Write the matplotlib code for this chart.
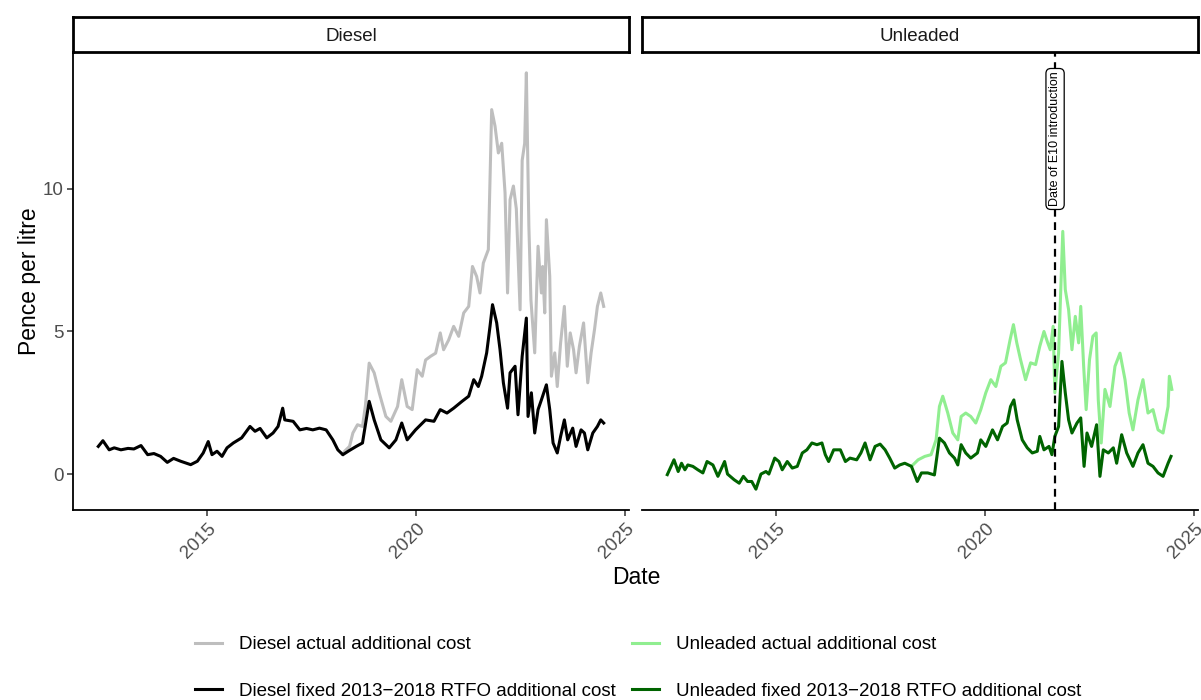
import numpy as np
import pandas as pd
import matplotlib
matplotlib.use("Agg")
import matplotlib.pyplot as plt
import matplotlib.dates as mdates
from matplotlib.lines import Line2D

plt.rcParams['font.family'] = ['Liberation Sans', 'DejaVu Sans']

# (decimal year, pence per litre)
diesel_fixed = [
    (2012.39, 0.97), (2012.50, 1.17), (2012.65, 0.85), (2012.77, 0.92), (2012.93, 0.85),
    (2013.10, 0.90), (2013.24, 0.88), (2013.41, 1.00), (2013.57, 0.68), (2013.72, 0.72),
    (2013.88, 0.62), (2014.04, 0.41), (2014.19, 0.55), (2014.36, 0.45), (2014.60, 0.33),
    (2014.76, 0.45), (2014.90, 0.74), (2015.02, 1.14), (2015.11, 0.68), (2015.23, 0.80),
    (2015.35, 0.62), (2015.47, 0.92), (2015.62, 1.09), (2015.82, 1.27), (2016.02, 1.67),
    (2016.14, 1.50), (2016.26, 1.60), (2016.42, 1.27), (2016.57, 1.44), (2016.69, 1.67),
    (2016.80, 2.31), (2016.85, 1.90), (2017.05, 1.85), (2017.21, 1.55), (2017.37, 1.60),
    (2017.52, 1.55), (2017.68, 1.61), (2017.84, 1.55), (2018.00, 1.20), (2018.12, 0.85),
    (2018.24, 0.68), (2018.40, 0.83), (2018.56, 0.97), (2018.71, 1.09), (2018.87, 2.55),
    (2018.99, 1.90), (2019.15, 1.20), (2019.35, 0.92), (2019.51, 1.20), (2019.65, 1.79),
    (2019.78, 1.20), (2019.98, 1.55), (2020.22, 1.90), (2020.42, 1.85), (2020.57, 2.26),
    (2020.73, 2.14), (2020.89, 2.31), (2021.09, 2.55), (2021.25, 2.73), (2021.37, 3.31),
    (2021.48, 3.07), (2021.56, 3.43), (2021.68, 4.25), (2021.76, 5.18), (2021.82, 5.94),
    (2021.92, 5.30), (2022.00, 4.36), (2022.08, 3.20), (2022.18, 2.31), (2022.24, 3.55),
    (2022.36, 3.78), (2022.43, 2.08), (2022.53, 4.13), (2022.63, 5.47), (2022.67, 2.02),
    (2022.75, 2.85), (2022.83, 1.44), (2022.91, 2.26), (2022.99, 2.60), (2023.11, 3.13),
    (2023.19, 2.26), (2023.27, 1.09), (2023.37, 0.74), (2023.45, 1.32), (2023.54, 1.90),
    (2023.62, 1.20), (2023.74, 1.61), (2023.82, 0.97), (2023.94, 1.55), (2024.02, 1.44),
    (2024.10, 0.85), (2024.22, 1.44), (2024.33, 1.67), (2024.41, 1.90), (2024.48, 1.79),
]

diesel_actual = [
    (2018.24, 0.68), (2018.28, 0.80), (2018.40, 0.97), (2018.48, 1.44), (2018.59, 1.73),
    (2018.71, 1.67), (2018.78, 2.40), (2018.87, 3.89), (2018.99, 3.55), (2019.11, 2.85),
    (2019.27, 2.02), (2019.39, 1.85), (2019.55, 2.37), (2019.65, 3.31), (2019.78, 2.37),
    (2019.90, 2.26), (2020.02, 3.66), (2020.14, 3.43), (2020.22, 4.00), (2020.34, 4.13),
    (2020.46, 4.24), (2020.57, 4.95), (2020.65, 4.36), (2020.77, 4.70), (2020.89, 5.18),
    (2021.01, 4.83), (2021.13, 5.65), (2021.25, 5.88), (2021.34, 7.28), (2021.44, 6.93),
    (2021.52, 6.35), (2021.60, 7.40), (2021.72, 7.87), (2021.80, 12.78), (2021.88, 12.20),
    (2021.96, 11.26), (2022.04, 11.60), (2022.12, 9.86), (2022.18, 6.35), (2022.24, 9.62),
    (2022.32, 10.10), (2022.39, 9.30), (2022.48, 5.76), (2022.53, 11.00), (2022.59, 11.60),
    (2022.63, 14.07), (2022.69, 8.70), (2022.74, 6.10), (2022.83, 4.25), (2022.91, 7.99),
    (2022.99, 6.35), (2023.02, 7.28), (2023.07, 5.65), (2023.11, 8.92), (2023.19, 6.93),
    (2023.23, 3.43), (2023.31, 4.25), (2023.37, 3.07), (2023.45, 4.60), (2023.54, 5.88),
    (2023.61, 3.78), (2023.68, 4.95), (2023.76, 4.36), (2023.82, 3.55), (2023.90, 4.48),
    (2024.00, 5.30), (2024.10, 3.20), (2024.18, 4.25), (2024.26, 5.06), (2024.33, 5.88),
    (2024.41, 6.35), (2024.48, 5.88),
]

unleaded_fixed = [
    (2012.39, -0.02), (2012.55, 0.50), (2012.65, 0.09), (2012.73, 0.38), (2012.81, 0.15),
    (2012.88, 0.32), (2013.00, 0.27), (2013.12, 0.15), (2013.24, 0.04), (2013.34, 0.44),
    (2013.48, 0.32), (2013.60, -0.08), (2013.76, 0.44), (2013.83, 0.00), (2013.99, -0.20),
    (2014.11, -0.32), (2014.21, -0.08), (2014.31, -0.26), (2014.41, -0.26), (2014.51, -0.53),
    (2014.63, 0.00), (2014.75, 0.09), (2014.82, 0.00), (2014.96, 0.56), (2015.06, 0.44),
    (2015.14, 0.15), (2015.26, 0.44), (2015.38, 0.21), (2015.50, 0.27), (2015.62, 0.74),
    (2015.73, 0.85), (2015.85, 1.09), (2015.97, 1.03), (2016.09, 1.09), (2016.17, 0.68),
    (2016.25, 0.44), (2016.37, 0.85), (2016.53, 0.85), (2016.65, 0.44), (2016.76, 0.56),
    (2016.92, 0.50), (2017.02, 0.74), (2017.12, 1.09), (2017.24, 0.50), (2017.36, 0.97),
    (2017.48, 1.05), (2017.60, 0.85), (2017.71, 0.56), (2017.83, 0.21), (2017.95, 0.32),
    (2018.07, 0.38), (2018.23, 0.27), (2018.37, -0.26), (2018.47, 0.04), (2018.62, 0.04),
    (2018.78, -0.03), (2018.90, 1.26), (2019.02, 1.09), (2019.14, 0.74), (2019.26, 0.56),
    (2019.34, 0.32), (2019.42, 1.03), (2019.53, 0.74), (2019.65, 0.56), (2019.81, 0.74),
    (2019.89, 1.20), (2020.01, 0.97), (2020.17, 1.55), (2020.29, 1.20), (2020.41, 1.67),
    (2020.52, 1.79), (2020.60, 2.37), (2020.68, 2.60), (2020.76, 1.90), (2020.88, 1.20),
    (2021.00, 0.92), (2021.12, 0.74), (2021.24, 0.80), (2021.30, 1.32), (2021.40, 0.85),
    (2021.52, 0.97), (2021.59, 0.68), (2021.66, 1.32), (2021.75, 1.67), (2021.83, 3.95),
    (2021.91, 2.85), (2021.99, 1.90), (2022.07, 1.44), (2022.19, 1.79), (2022.28, 1.97),
    (2022.36, 0.27), (2022.43, 1.44), (2022.54, 0.97), (2022.66, 1.73), (2022.74, -0.08),
    (2022.82, 0.85), (2022.94, 0.74), (2023.06, 0.92), (2023.14, 0.38), (2023.26, 1.38),
    (2023.38, 0.74), (2023.53, 0.27), (2023.65, 0.74), (2023.77, 1.03), (2023.89, 0.38),
    (2024.01, 0.27), (2024.13, 0.04), (2024.25, -0.08), (2024.37, 0.38), (2024.44, 0.62),
]

unleaded_actual = [
    (2018.23, 0.27), (2018.39, 0.50), (2018.55, 0.62), (2018.70, 0.68), (2018.82, 1.20),
    (2018.90, 2.37), (2018.98, 2.73), (2019.10, 2.14), (2019.22, 1.44), (2019.34, 1.20),
    (2019.42, 2.02), (2019.53, 2.14), (2019.65, 2.02), (2019.77, 1.79), (2019.89, 2.26),
    (2020.01, 2.85), (2020.13, 3.31), (2020.25, 3.07), (2020.37, 3.78), (2020.48, 3.90),
    (2020.59, 4.71), (2020.67, 5.24), (2020.75, 4.60), (2020.84, 4.01), (2020.96, 3.31),
    (2021.08, 3.90), (2021.20, 3.84), (2021.30, 4.48), (2021.40, 5.00), (2021.49, 4.60),
    (2021.55, 4.36), (2021.62, 5.18), (2021.66, 2.85), (2021.75, 4.24), (2021.85, 8.51),
    (2021.91, 6.47), (2021.99, 5.76), (2022.07, 4.36), (2022.15, 5.53), (2022.23, 4.60),
    (2022.28, 5.88), (2022.35, 3.78), (2022.41, 2.26), (2022.49, 4.01), (2022.57, 4.83),
    (2022.65, 4.95), (2022.70, 2.60), (2022.77, 1.09), (2022.86, 2.97), (2022.98, 2.37),
    (2023.10, 3.78), (2023.22, 4.24), (2023.34, 3.31), (2023.44, 2.14), (2023.53, 1.55),
    (2023.65, 2.60), (2023.77, 3.31), (2023.89, 2.14), (2024.01, 2.26), (2024.13, 1.55),
    (2024.25, 1.44), (2024.37, 2.37), (2024.40, 3.43), (2024.46, 2.97),
]

panels = ["Diesel", "Unleaded"]
series_labels = {
    "diesel_actual": "Diesel actual additional cost",
    "diesel_fixed": "Diesel fixed 2013\u22122018 RTFO additional cost",
    "unleaded_actual": "Unleaded actual additional cost",
    "unleaded_fixed": "Unleaded fixed 2013\u22122018 RTFO additional cost",
}
series_colors = {
    "diesel_actual": "#BEBEBE",
    "diesel_fixed": "#000000",
    "unleaded_actual": "#90EE90",
    "unleaded_fixed": "#006400",
}
e10_date = "2021-09-01"
e10_label = "Date of E10 introduction"


def to_dates(years):
    out = []
    for y in years:
        yr = int(np.floor(y))
        start = pd.Timestamp(year=yr, month=1, day=1)
        end = pd.Timestamp(year=yr + 1, month=1, day=1)
        out.append((start + (end - start) * (y - yr)).to_pydatetime())
    return out


def split(pairs):
    t, v = zip(*pairs)
    return to_dates(t), np.array(v)


data = {
    "diesel_actual": split(diesel_actual),
    "diesel_fixed": split(diesel_fixed),
    "unleaded_actual": split(unleaded_actual),
    "unleaded_fixed": split(unleaded_fixed),
}

# shared scales with 5% padding on each side
all_series = (diesel_fixed, diesel_actual, unleaded_fixed, unleaded_actual)
all_t = [p[0] for s in all_series for p in s]
all_v = [p[1] for s in all_series for p in s]
t_lo, t_hi = min(all_t), max(all_t)
v_lo, v_hi = min(all_v), max(all_v)
xlim = to_dates([t_lo - 0.05 * (t_hi - t_lo), t_hi + 0.05 * (t_hi - t_lo)])
ylim = (v_lo - 0.05 * (v_hi - v_lo), v_hi + 0.05 * (v_hi - v_lo))

W, H = 1201, 700
fig = plt.figure(figsize=(W / 100, H / 100), dpi=100)
fig.patch.set_facecolor("white")

panel_left = [73, 642]
panel_w = 556
panel_top, panel_bot = 52, 510
strip_top = 17

tick_col = "#4D4D4D"
axes = []
for i, name in enumerate(panels):
    ax = fig.add_axes([panel_left[i] / W, 1 - panel_bot / H, panel_w / W, (panel_bot - panel_top) / H])
    axes.append(ax)
    key = name.lower()
    for kind in ("actual", "fixed"):
        k = f"{key}_{kind}"
        t, v = data[k]
        ax.plot(t, v, color=series_colors[k], lw=2.2, solid_joinstyle="round", zorder=2)
    ax.set_xlim(xlim)
    ax.set_ylim(ylim)
    ax.xaxis.set_major_locator(mdates.YearLocator(5))
    ax.xaxis.set_major_formatter(mdates.DateFormatter("%Y"))
    ax.set_yticks([0, 5, 10])
    for s in ("top", "right"):
        ax.spines[s].set_visible(False)
    ax.spines["bottom"].set_linewidth(1.3)
    ax.spines["left"].set_linewidth(1.3)
    ax.tick_params(axis="both", colors="#333333", labelcolor=tick_col, labelsize=13.5,
                   length=4, width=1.1, pad=3)
    for lab in ax.get_xticklabels():
        lab.set_rotation(45)
        lab.set_ha("right")
        lab.set_va("top")
        lab.set_rotation_mode("anchor")
    if i == 1:
        ax.spines["left"].set_visible(False)
        ax.tick_params(axis="y", left=False, labelleft=False)

    # facet strip
    sax = fig.add_axes([panel_left[i] / W, 1 - panel_top / H, panel_w / W, (panel_top - strip_top) / H])
    sax.set_xticks([])
    sax.set_yticks([])
    for s in sax.spines.values():
        s.set_linewidth(2.0)
        s.set_color("black")
    sax.text(0.5, 0.5, name, ha="center", va="center_baseline", fontsize=13.5, color="#1A1A1A",
             transform=sax.transAxes)

# E10 marker on the unleaded panel
ax_u = axes[1]
e10 = pd.Timestamp(e10_date).to_pydatetime()
ax_u.axvline(e10, color="black", lw=1.6, linestyle=(0, (3.5, 2.5)), zorder=4)
ax_u.text(e10, 11.75, e10_label, rotation=90, ha="center", va="center", fontsize=9,
          color="black", zorder=5,
          bbox=dict(boxstyle="round,pad=0.25,rounding_size=0.4", fc="white", ec="black", lw=0.9))

fig.text(30 / W, 1 - 281 / H, "Pence per litre", rotation=90, ha="center", va="center", fontsize=16.5)
fig.text(636 / W, 1 - 578 / H, "Date", ha="center", va="center", fontsize=16.5)

order = ["diesel_actual", "diesel_fixed", "unleaded_actual", "unleaded_fixed"]
handles = [Line2D([], [], color=series_colors[k], lw=2.2) for k in order]
labels = [series_labels[k] for k in order]
fig.legend(handles, labels, ncol=2, loc="center", bbox_to_anchor=(638 / W, 1 - 668 / H),
           frameon=False, fontsize=13.5, handlelength=1.45, handletextpad=0.9,
           columnspacing=0.85, labelspacing=1.55)

fig.savefig("out.png", dpi=100, facecolor="white")
